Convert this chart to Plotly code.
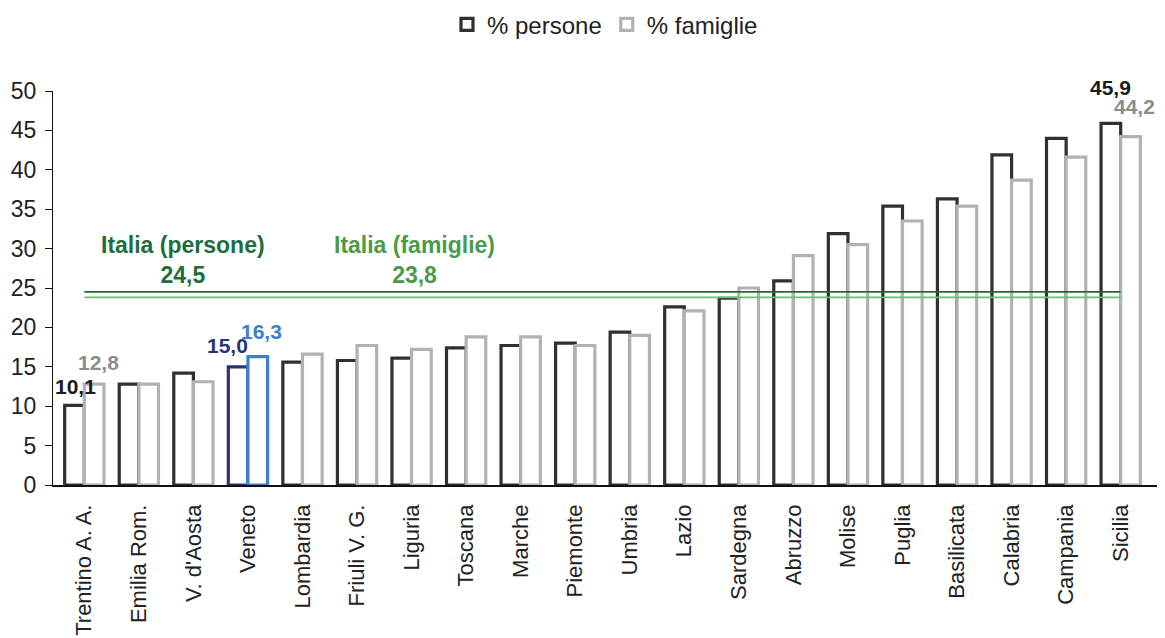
import plotly.graph_objects as go

# Regional poverty incidence (%) — persons vs households
regioni = ["Trentino A. A.", "Emilia Rom.", "V. d'Aosta", "Veneto", "Lombardia",
           "Friuli V. G.", "Liguria", "Toscana", "Marche", "Piemonte", "Umbria",
           "Lazio", "Sardegna", "Abruzzo", "Molise", "Puglia", "Basilicata",
           "Calabria", "Campania", "Sicilia"]
persone = [10.1, 12.8, 14.2, 15.0, 15.6, 15.8, 16.1, 17.4, 17.7, 18.0, 19.4,
           22.6, 23.7, 25.9, 31.9, 35.4, 36.3, 41.9, 44.0, 45.9]
famiglie = [12.8, 12.8, 13.1, 16.3, 16.6, 17.7, 17.2, 18.8, 18.8, 17.7, 19.0,
            22.1, 25.0, 29.1, 30.5, 33.5, 35.4, 38.7, 41.6, 44.2]
italia_persone = 24.5
italia_famiglie = 23.8
y_ticks = [0, 5, 10, 15, 20, 25, 30, 35, 40, 45, 50]

FONT = "Liberation Sans, Arial, sans-serif"
C_PERS = "#303030"
C_FAM = "#b2b2b5"
C_VEN_P = "#2a3278"
C_VEN_F = "#3e7fcb"
G_DARK = "#1e6b3a"
G_LIGHT = "#68bf66"
BARGAP = 0.28
half = (1 - BARGAP) / 4  # centre offset of each bar within a group


def fmt(v):
    return f"{v:.1f}".replace(".", ",")


pers_lines = [C_VEN_P if r == "Veneto" else C_PERS for r in regioni]
fam_lines = [C_VEN_F if r == "Veneto" else C_FAM for r in regioni]

fig = go.Figure()
fig.add_trace(go.Bar(
    name="% persone", x=regioni, y=persone,
    marker=dict(color="white", line=dict(color=pers_lines, width=3.2)),
))
fig.add_trace(go.Bar(
    name="% famiglie", x=regioni, y=famiglie,
    marker=dict(color="white", line=dict(color=fam_lines, width=3.2)),
))

# National reference lines, first to last region centre
fig.add_trace(go.Scatter(
    x=[regioni[0], regioni[-1]], y=[italia_persone] * 2, mode="lines",
    line=dict(color=G_DARK, width=1.8), showlegend=False, hoverinfo="skip",
))
fig.add_trace(go.Scatter(
    x=[regioni[0], regioni[-1]], y=[italia_famiglie] * 2, mode="lines",
    line=dict(color=G_LIGHT, width=1.8), showlegend=False, hoverinfo="skip",
))

annotations = []

# Selected value labels: (region, series, colour, xshift, yshift)
labelled = [
    ("Trentino A. A.", "p", "#1a1a1a", 1, 19),
    ("Trentino A. A.", "f", "#8c8c8c", 4, 22),
    ("Veneto", "p", C_VEN_P, -11, 21),
    ("Veneto", "f", C_VEN_F, 4, 25),
    ("Sicilia", "p", "#1a1a1a", 0, 36),
    ("Sicilia", "f", "#8c8c8c", 4, 30),
]
for reg, s, col, dx, dy in labelled:
    i = regioni.index(reg)
    v = persone[i] if s == "p" else famiglie[i]
    xpos = i - half if s == "p" else i + half
    annotations.append(dict(
        x=xpos, y=v, xref="x", yref="y", text=f"<b>{fmt(v)}</b>",
        showarrow=False, xshift=dx, yshift=dy, yanchor="middle",
        font=dict(family=FONT, size=21, color=col),
    ))

annotations.append(dict(
    x=1.8, y=italia_persone, xref="x", yref="y",
    text=f"<b>Italia (persone)</b><br><b>{fmt(italia_persone)}</b>",
    showarrow=False, yanchor="bottom", yshift=2,
    font=dict(family=FONT, size=23, color="#1e6e3c"),
))
annotations.append(dict(
    x=6.06, y=italia_famiglie, xref="x", yref="y",
    text=f"<b>Italia (famiglie)</b><br><b>{fmt(italia_famiglie)}</b>",
    showarrow=False, yanchor="bottom", yshift=7,
    font=dict(family=FONT, size=23, color="#4a9a4a"),
))

fig.update_layout(
    width=1165, height=638,
    margin=dict(l=53, r=8, t=91, b=153, autoexpand=False),
    paper_bgcolor="white", plot_bgcolor="white",
    barmode="group", bargap=BARGAP, bargroupgap=0,
    font=dict(family=FONT, color="#222222"),
    showlegend=True,
    legend=dict(
        orientation="h", x=0.5, xanchor="center", y=1.168, yanchor="middle",
        font=dict(family=FONT, size=24, color="#222222"),
        itemwidth=30, traceorder="normal",
    ),
    annotations=annotations,
)
fig.update_xaxes(
    type="category", showline=True, linecolor="#111111", linewidth=1.5,
    showgrid=False, ticks="", tickangle=-90, ticklabelstandoff=9,
    automargin=False,
    tickfont=dict(family=FONT, size=22, color="#222222"),
)
fig.update_yaxes(
    range=[0, 50], tickvals=y_ticks, ticktext=[str(t) for t in y_ticks],
    showline=True, linecolor="#111111", linewidth=1.3, showgrid=False,
    zeroline=False, ticks="outside", ticklen=7, tickcolor="#111111",
    ticklabelstandoff=4, automargin=False,
    tickfont=dict(family=FONT, size=23, color="#222222"),
)

fig.write_html("out.html")
